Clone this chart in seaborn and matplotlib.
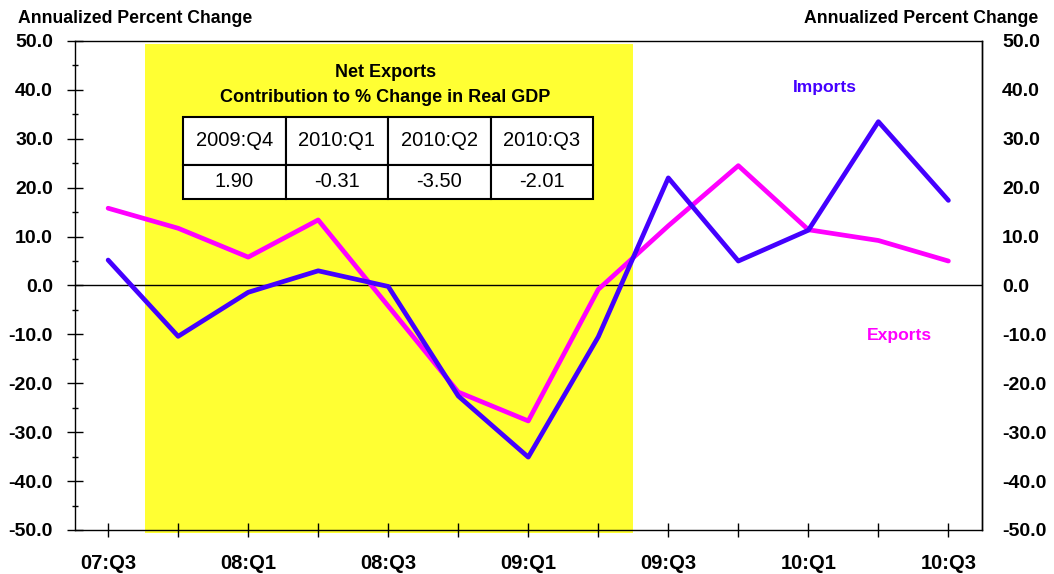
import numpy as np
import pandas as pd
import matplotlib
matplotlib.use("Agg")
import matplotlib.pyplot as plt
from matplotlib.patches import Rectangle
import seaborn as sns

# Quarterly annualized percent change in real exports and imports
quarters = ["07:Q3", "07:Q4", "08:Q1", "08:Q2", "08:Q3", "08:Q4", "09:Q1",
            "09:Q2", "09:Q3", "09:Q4", "10:Q1", "10:Q2", "10:Q3"]
imports = [5.2, -10.4, -1.4, 3.0, -0.2, -22.6, -35.1, -10.5, 22.0, 5.0, 11.3, 33.5, 17.4]
exports = [15.8, 11.7, 5.8, 13.4, -4.2, -21.8, -27.7, -0.8, 12.2, 24.5, 11.4, 9.2, 5.0]

# Net exports contribution table
table_quarters = ["2009:Q4", "2010:Q1", "2010:Q2", "2010:Q3"]
table_values = ["1.90", "-0.31", "-3.50", "-2.01"]

y_ticks = [50.0, 40.0, 30.0, 20.0, 10.0, 0.0, -10.0, -20.0, -30.0, -40.0, -50.0]

IMPORT_COLOR = "#4400FF"
EXPORT_COLOR = "#FF00FF"
BAND_COLOR = "#FFFF33"

sns.set_style("ticks")
plt.rcParams["font.family"] = ["Liberation Sans", "DejaVu Sans"]
plt.rcParams.update({"text.color": "black", "axes.labelcolor": "black",
                     "xtick.color": "black", "ytick.color": "black",
                     "axes.edgecolor": "black"})

df = pd.DataFrame({"pos": np.arange(len(quarters)), "quarter": quarters,
                   "Imports": imports, "Exports": exports})

fig = plt.figure(figsize=(10.54, 5.74), dpi=100)
ax = fig.add_axes([0.0707, 0.0767, 0.8610, 0.8519])

# Recession band (extends a hair below the bottom axis)
ax.add_patch(Rectangle((0.52, -50.6), 7.5 - 0.52, 49.3 + 50.6,
                       facecolor=BAND_COLOR, edgecolor="none", zorder=0,
                       clip_on=False))

ax.axhline(0, color="black", lw=1.0, zorder=1)

sns.lineplot(data=df, x="pos", y="Exports", ax=ax, color=EXPORT_COLOR,
             lw=3.4, zorder=3)
sns.lineplot(data=df, x="pos", y="Imports", ax=ax, color=IMPORT_COLOR,
             lw=3.4, zorder=4)

ax.set_xlim(-0.48, 12.48)
ax.set_ylim(-50, 50)
ax.set_xlabel("")
ax.set_ylabel("")

ax.set_xticks(df["pos"])
ax.set_xticklabels([q if i % 2 == 0 else "" for i, q in enumerate(quarters)],
                   fontsize=14.5, fontweight="bold", color="black")
ax.set_yticks(y_ticks)
ax.set_yticklabels([f"{v:.1f}" for v in y_ticks], fontsize=14, fontweight="bold",
                   color="black")
ax.set_yticks(np.arange(-45, 50, 10), minor=True)
ax.tick_params(axis="x", direction="inout", length=10, width=1, pad=12, colors="black")
ax.tick_params(axis="y", which="major", direction="inout", length=11, width=1, pad=10,
               colors="black")
ax.tick_params(axis="y", which="minor", direction="inout", length=5, width=1,
               colors="black")

for side in ["left", "right", "top", "bottom"]:
    ax.spines[side].set_visible(True)
    ax.spines[side].set_color("black")
    ax.spines[side].set_linewidth(1.0)

# Right-hand duplicate scale
ax2 = ax.twinx()
ax2.set_ylim(-50, 50)
ax2.set_yticks(y_ticks)
ax2.set_yticklabels([f"{v:.1f}" for v in y_ticks], fontsize=14, fontweight="bold",
                    color="black")
ax2.tick_params(axis="y", length=0, pad=14.5, colors="black")
for side in ["left", "top", "bottom"]:
    ax2.spines[side].set_visible(False)
ax2.spines["right"].set_color("black")
ax2.spines["right"].set_linewidth(1.0)

# Axis captions
fig.text(0.017, 0.967, "Annualized Percent Change", ha="left", va="center",
         fontsize=12.7, fontweight="bold", color="black")
fig.text(0.985, 0.967, "Annualized Percent Change", ha="right", va="center",
         fontsize=12.7, fontweight="bold", color="black")

# Series labels
ax.text(10.24, 40.5, "Imports", color=IMPORT_COLOR, ha="center", va="center",
        fontsize=12.6, fontweight="bold", zorder=5)
ax.text(11.3, -10.2, "Exports", color=EXPORT_COLOR, ha="center", va="center",
        fontsize=12.6, fontweight="bold", zorder=5)

# Table title
ax.text(3.96, 43.5, "Net Exports", ha="center", va="center",
        fontsize=13, fontweight="bold", color="black", zorder=5)
ax.text(3.96, 38.5, "Contribution to % Change in Real GDP", ha="center",
        va="center", fontsize=13, fontweight="bold", color="black", zorder=5)

# Contribution table
tbl = ax.table(cellText=[table_quarters, table_values], cellLoc="center",
               bbox=[0.1196, 0.677, 0.452, 0.1677], zorder=6)
tbl.auto_set_font_size(False)
tbl.set_fontsize(14.5)
for (r, c), cell in tbl.get_celld().items():
    cell.set_facecolor("white")
    cell.set_edgecolor("black")
    cell.set_linewidth(1.5)
    cell.set_height(0.48 if r == 0 else 0.34)
    cell.get_text().set_color("black")

fig.savefig("out.png", dpi=100)
